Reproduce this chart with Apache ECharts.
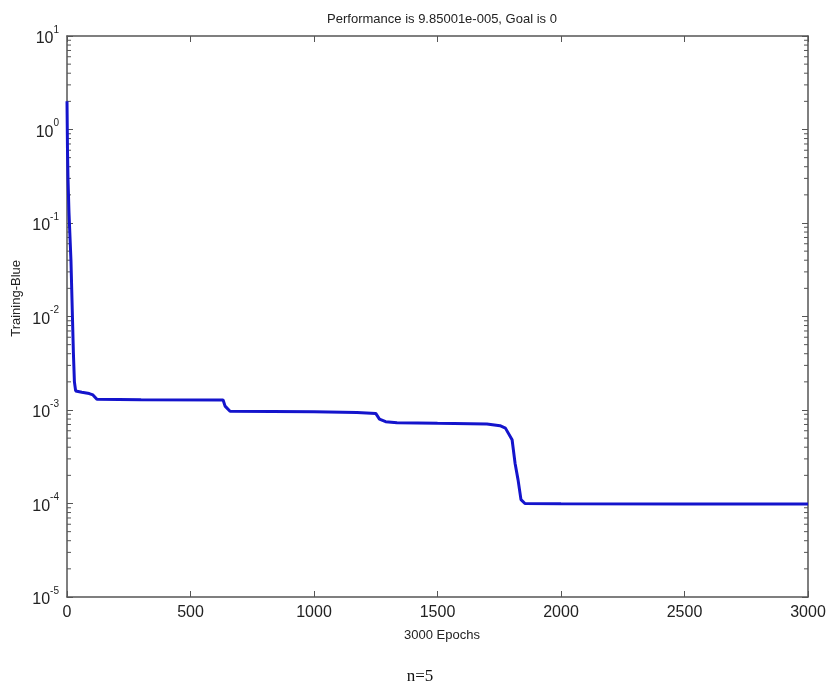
<!DOCTYPE html>
<html><head><meta charset="utf-8">
<script src="https://cdn.jsdelivr.net/npm/echarts@6/dist/echarts.min.js"></script>
<style>html,body{margin:0;padding:0;background:#fff}#c{width:831px;height:694px}</style>
</head><body><div id="c"></div>
<script>
const epochs = [0, 2, 4, 8, 16, 22, 26, 30, 35, 60, 90, 105, 121, 300, 632, 640, 660, 1000, 1174, 1250, 1265, 1290, 1336, 1500, 1700, 1753, 1775, 1802, 1814, 1826, 1838, 1854, 2000, 2500, 3000];
const performance = [2.0, 0.6, 0.3, 0.13, 0.04, 0.01, 0.004, 0.002, 0.0016, 0.00155, 0.0015, 0.00145, 0.0013, 0.00129, 0.00128, 0.0011, 0.00097, 0.00096, 0.00094, 0.00092, 0.0008, 0.00075, 0.00073, 0.00072, 0.00071, 0.00068, 0.00064, 0.00048, 0.00027, 0.00018, 0.00011, 0.0001, 0.0000995, 0.0000988, 0.0000985];
const xTicks = [0, 500, 1000, 1500, 2000, 2500, 3000];
const yDecades = [-5, -4, -3, -2, -1, 0, 1];
const titleText = 'Performance is 9.85001e-005, Goal is 0';

const minorVals = [];
for (let e = -5; e < 1; e++) for (let k = 2; k <= 9; k++) minorVals.push(k * Math.pow(10, e));

const axisColor = '#555';
const chart = echarts.init(document.getElementById('c'));
chart.setOption({
  animation: false,
  backgroundColor: '#fff',
  title: [
    {text: titleText, left: 437, top: 8, textAlign: 'center',
     textStyle: {fontFamily: 'Liberation Sans, Arial', fontSize: 13, fontWeight: 'normal', color: '#222'}},
    {text: '3000 Epochs', left: 437, top: 624, textAlign: 'center',
     textStyle: {fontFamily: 'Liberation Sans, Arial', fontSize: 13, fontWeight: 'normal', color: '#222'}},
    {text: 'n=5', left: 415, top: 663, textAlign: 'center',
     textStyle: {fontFamily: 'Liberation Serif, Times New Roman', fontSize: 17, fontWeight: 'normal', color: '#111'}}
  ],
  graphic: [{type: 'text', left: 10, top: 260, rotation: Math.PI / 2,
    style: {text: 'Training-Blue', font: '13px Liberation Sans, Arial', fill: '#222'}}],
  grid: {left: 67, right: 23, top: 36, bottom: 97},
  xAxis: [
    {type: 'value', min: 0, max: 3000, interval: 500,
     axisLine: {show: true, onZero: false, lineStyle: {color: axisColor, width: 1.5}},
     axisTick: {show: true, inside: true, length: 6, lineStyle: {color: axisColor}},
     axisLabel: {margin: 8, fontFamily: 'Liberation Sans, Arial', fontSize: 16, color: '#222',
       formatter: v => xTicks.includes(v) ? String(v) : ''},
     splitLine: {show: false}},
    {type: 'value', min: 0, max: 3000, interval: 500, position: 'top',
     axisLine: {show: true, onZero: false, lineStyle: {color: axisColor, width: 1.5}},
     axisTick: {show: true, inside: true, length: 6, lineStyle: {color: axisColor}},
     axisLabel: {show: false}, splitLine: {show: false}}
  ],
  yAxis: [
    {type: 'log', logBase: 10, min: 1e-5, max: 10,
     axisLine: {show: true, onZero: false, lineStyle: {color: axisColor, width: 1.5}},
     axisTick: {show: true, inside: true, length: 6, lineStyle: {color: axisColor}},
     axisLabel: {margin: 8, color: '#222',
       formatter: v => {
         const e = Math.round(Math.log10(v));
         return yDecades.includes(e) ? '{b|10}{s|' + e + '}' : '';
       },
       rich: {b: {fontFamily: 'Liberation Sans, Arial', fontSize: 16, color: '#222', padding: [6, 0, 0, 0]},
              s: {fontFamily: 'Liberation Sans, Arial', fontSize: 10, color: '#222', verticalAlign: 'top', padding: [0, 0, 8, 0]}}},
     splitLine: {show: false}},
    {type: 'log', logBase: 10, min: 1e-5, max: 10, position: 'right',
     axisLine: {show: true, onZero: false, lineStyle: {color: axisColor, width: 1.5}},
     axisTick: {show: true, inside: true, length: 6, lineStyle: {color: axisColor}},
     axisLabel: {show: false}, splitLine: {show: false}}
  ],
  series: [
    {type: 'custom', xAxisIndex: 0, yAxisIndex: 0, silent: true,
     data: minorVals.map(v => [0, v]),
     renderItem: (params, api) => {
       const v = api.value(1);
       const l = api.coord([0, v]);
       const r = api.coord([3000, v]);
       return {type: 'group', children: [
         {type: 'line', shape: {x1: l[0], y1: l[1], x2: l[0] + 4, y2: l[1]}, style: {stroke: axisColor, lineWidth: 1}},
         {type: 'line', shape: {x1: r[0], y1: r[1], x2: r[0] - 4, y2: r[1]}, style: {stroke: axisColor, lineWidth: 1}}
       ]};
     }},
    {type: 'line', xAxisIndex: 0, yAxisIndex: 0, showSymbol: false, symbol: 'none',
     data: epochs.map((e, i) => [e, performance[i]]),
     lineStyle: {color: '#1414cc', width: 3}}
  ]
});
</script></body></html>
